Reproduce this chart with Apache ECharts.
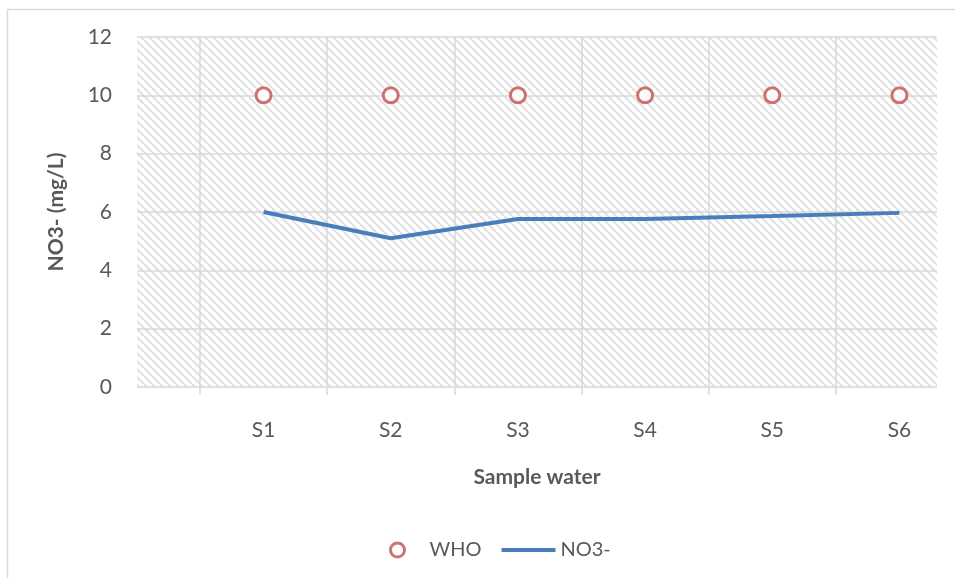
<!DOCTYPE html>
<html><head><meta charset="utf-8">
<script src="https://cdn.jsdelivr.net/npm/echarts@6/dist/echarts.min.js"></script>
<style>html,body{margin:0;padding:0;background:#fff}#c{width:955px;height:578px}</style>
</head><body><div id="c"></div>
<script>
var categories = ['S1', 'S2', 'S3', 'S4', 'S5', 'S6'];
var whoValues = [10, 10, 10, 10, 10, 10];
var no3Values = [6.0, 5.1, 5.76, 5.76, 5.86, 5.97];
var yTicks = {min: 0, max: 12, interval: 2};

var FONT = 'Lato';
var tile = document.createElement('canvas');
tile.width = 8; tile.height = 8;
var tc = tile.getContext('2d');
tc.fillStyle = '#ffffff'; tc.fillRect(0, 0, 8, 8);
tc.strokeStyle = '#e1e1e1'; tc.lineWidth = 2.2;
[-8, 0, 8].forEach(function (k) { tc.beginPath(); tc.moveTo(k, 0); tc.lineTo(k + 8, 8); tc.stroke(); });

var chart = echarts.init(document.getElementById('c'), null, {renderer: 'canvas'});
chart.setOption({
  backgroundColor: '#ffffff',
  animation: false,
  textStyle: {fontFamily: FONT},
  graphic: [{type: 'rect', left: 5, top: 7, shape: {width: 1100, height: 700}, style: {fill: 'none', stroke: '#d9d9d9', lineWidth: 1.5}, silent: true, z: -10}],
  grid: [
    {left: 137, width: 800, top: 37, height: 350, show: true, backgroundColor: {image: tile, repeat: 'repeat'}, borderWidth: 0, z: 0, outerBoundsMode: 'none', containLabel: false},
    {left: 200, width: 763, top: 37, height: 350, show: false, z: 2, outerBoundsMode: 'none', containLabel: false}
  ],
  xAxis: [
    {gridIndex: 0, type: 'value', min: 0, max: 1, axisLine: {show: false}, axisTick: {show: false}, axisLabel: {show: false}, splitLine: {show: false},
     name: 'Sample water', nameLocation: 'middle', nameGap: 80, nameTextStyle: {fontFamily: FONT, fontSize: 21, fontWeight: 'bold', color: '#595959'}},
    {gridIndex: 1, type: 'category', data: categories, boundaryGap: true,
     axisLine: {show: false}, axisTick: {show: true, length: 8, lineStyle: {color: '#d9d9d9', width: 1.5}},
     axisLabel: {fontFamily: FONT, fontSize: 21, color: '#595959', margin: 33},
     splitLine: {show: true, lineStyle: {color: '#d9d9d9', width: 1.5}}}
  ],
  yAxis: [
    {gridIndex: 0, type: 'value', min: yTicks.min, max: yTicks.max, interval: yTicks.interval,
     axisLine: {show: false}, axisTick: {show: false},
     axisLabel: {fontFamily: FONT, fontSize: 21, color: '#595959', margin: 25},
     splitLine: {show: true, lineStyle: {color: '#d9d9d9', width: 1.5}},
     name: 'NO3- (mg/L)', nameLocation: 'middle', nameGap: 70, nameRotate: 90,
     nameTextStyle: {fontFamily: FONT, fontSize: 21, fontWeight: 'bold', color: '#595959'}},
    {gridIndex: 1, type: 'value', min: yTicks.min, max: yTicks.max, interval: yTicks.interval, show: false, splitLine: {show: false}}
  ],
  legend: {
    left: 384, top: 535, itemGap: 20, itemWidth: 54, itemHeight: 14,
    textStyle: {fontFamily: FONT, fontSize: 20, color: '#595959'},
    data: [
      {name: 'WHO', icon: 'circle', itemStyle: {color: '#ffffff', borderColor: '#c0504d', borderWidth: 3}},
      {name: 'NO3-', icon: 'path://M0,0 L54,0 L54,4 L0,4 Z', itemStyle: {color: '#4a7ebb'}}
    ]
  },
  series: [
    {name: 'WHO', type: 'scatter', xAxisIndex: 1, yAxisIndex: 1, data: whoValues,
     symbol: 'circle', symbolSize: 15, itemStyle: {color: '#ffffff', borderColor: '#c0504d', borderWidth: 3}, z: 5},
    {name: 'NO3-', type: 'line', xAxisIndex: 1, yAxisIndex: 1, data: no3Values,
     showSymbol: false, symbol: 'none', lineStyle: {color: '#4a7ebb', width: 4}, itemStyle: {color: '#4a7ebb'}, z: 4}
  ]
});
</script></body></html>
